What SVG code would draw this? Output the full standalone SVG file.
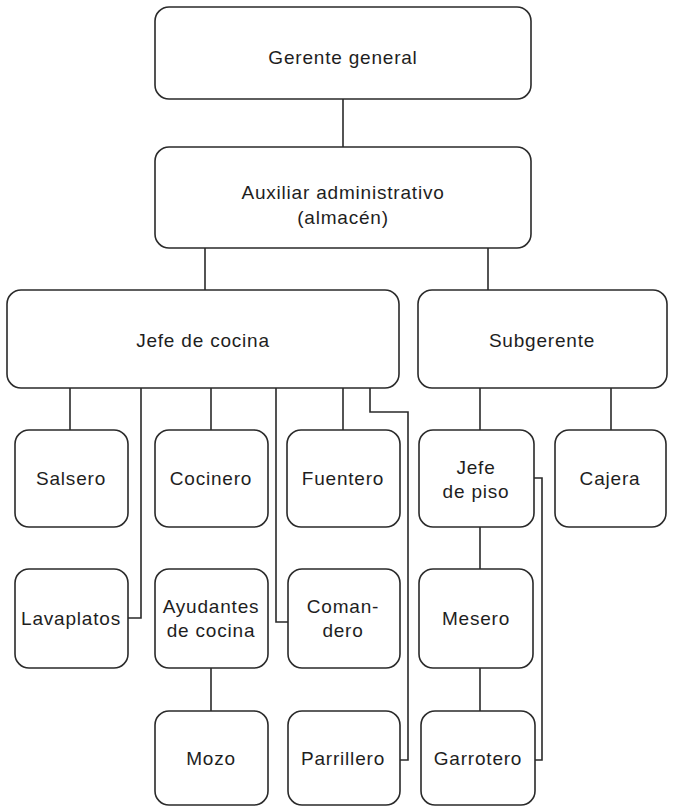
<svg xmlns="http://www.w3.org/2000/svg" width="678" height="807" viewBox="0 0 678 807">
<style>
.box{fill:#ffffff;stroke:#2a2a2a;stroke-width:1.6}
.t{font-family:"Liberation Sans",Arial,sans-serif;font-size:19px;letter-spacing:0.8px;fill:#1e1e1e;text-anchor:middle;dominant-baseline:central}
.c{fill:none;stroke:#2a2a2a;stroke-width:1.6}
</style>
<rect width="678" height="807" fill="#ffffff"/>
<g id="connectors">
<path class="c" d="M343 99V147"/>
<path class="c" d="M205 248V290"/>
<path class="c" d="M488 248V290"/>
<path class="c" d="M70 388V430"/>
<path class="c" d="M141 388V618H128"/>
<path class="c" d="M211 388V430"/>
<path class="c" d="M276 388V622H288"/>
<path class="c" d="M343 388V430"/>
<path class="c" d="M370 388V412H408V760H400"/>
<path class="c" d="M480 388V430"/>
<path class="c" d="M611 388V430"/>
<path class="c" d="M480 527V569"/>
<path class="c" d="M480 668V711"/>
<path class="c" d="M534 478H542V760H535"/>
<path class="c" d="M211 668V711"/>
</g>
<g id="gerente"><rect class="box" x="155" y="7" width="376" height="92" rx="14"/><text class="t" x="343" y="57">Gerente general</text></g>
<g id="auxiliar"><rect class="box" x="155" y="147" width="376" height="101" rx="14"/><text class="t" x="343" y="192">Auxiliar administrativo</text><text class="t" x="343" y="217">(almacén)</text></g>
<g id="jefe-cocina"><rect class="box" x="7" y="290" width="392" height="98" rx="14"/><text class="t" x="203" y="340">Jefe de cocina</text></g>
<g id="subgerente"><rect class="box" x="418" y="290" width="249" height="98" rx="14"/><text class="t" x="542" y="340">Subgerente</text></g>
<g id="salsero"><rect class="box" x="15" y="430" width="113" height="97" rx="14"/><text class="t" x="71" y="478">Salsero</text></g>
<g id="cocinero"><rect class="box" x="155" y="430" width="113" height="97" rx="14"/><text class="t" x="211" y="478">Cocinero</text></g>
<g id="fuentero"><rect class="box" x="287" y="430" width="113" height="97" rx="14"/><text class="t" x="343" y="478">Fuentero</text></g>
<g id="jefe-piso"><rect class="box" x="419" y="430" width="115" height="97" rx="14"/><text class="t" x="476" y="467">Jefe</text><text class="t" x="476" y="491">de piso</text></g>
<g id="cajera"><rect class="box" x="555" y="430" width="111" height="97" rx="14"/><text class="t" x="610" y="478">Cajera</text></g>
<g id="lavaplatos"><rect class="box" x="15" y="569" width="113" height="99" rx="14"/><text class="t" x="71" y="618">Lavaplatos</text></g>
<g id="ayudantes"><rect class="box" x="155" y="569" width="113" height="99" rx="14"/><text class="t" x="211" y="606">Ayudantes</text><text class="t" x="211" y="630">de cocina</text></g>
<g id="comandero"><rect class="box" x="288" y="569" width="112" height="99" rx="14"/><text class="t" x="343" y="606">Coman-</text><text class="t" x="343" y="630">dero</text></g>
<g id="mesero"><rect class="box" x="419" y="569" width="114" height="99" rx="14"/><text class="t" x="476" y="618">Mesero</text></g>
<g id="mozo"><rect class="box" x="155" y="711" width="113" height="94" rx="14"/><text class="t" x="211" y="758">Mozo</text></g>
<g id="parrillero"><rect class="box" x="288" y="711" width="112" height="94" rx="14"/><text class="t" x="343" y="758">Parrillero</text></g>
<g id="garrotero"><rect class="box" x="421" y="711" width="114" height="94" rx="14"/><text class="t" x="478" y="758">Garrotero</text></g>
</svg>
